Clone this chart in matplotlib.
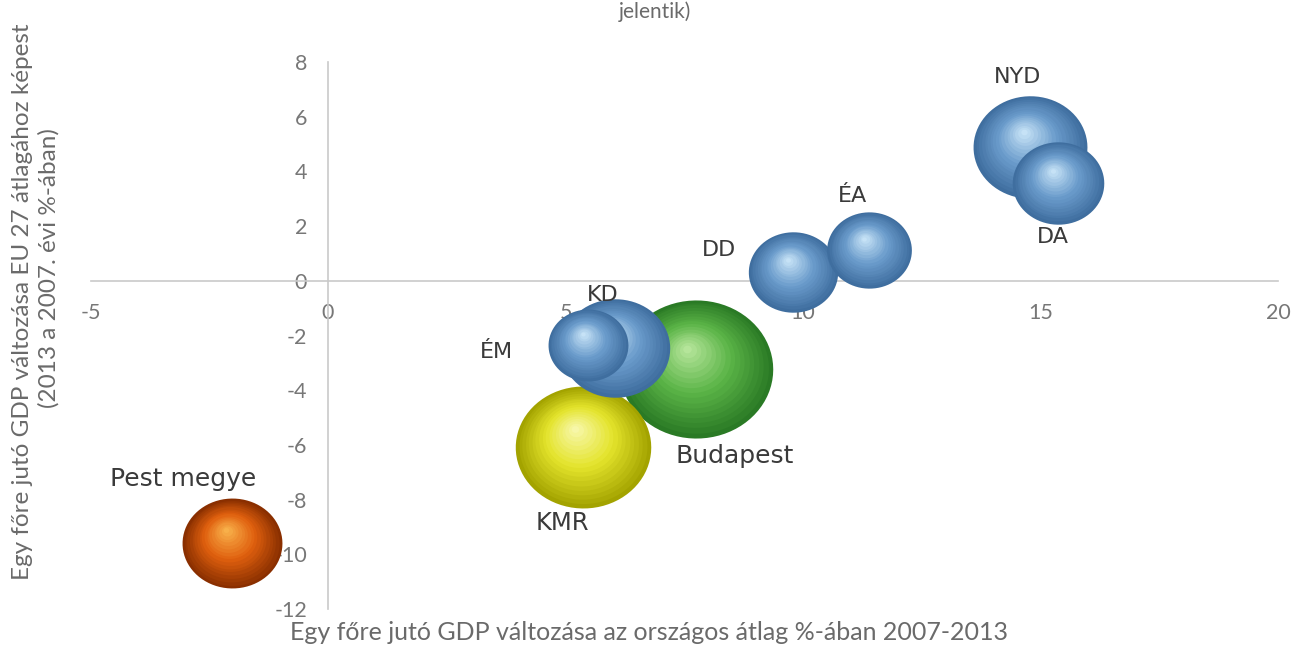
import numpy as np
import matplotlib
matplotlib.use("Agg")
import matplotlib.pyplot as plt
import matplotlib.transforms as mtransforms
from matplotlib.path import Path
from matplotlib.markers import MarkerStyle
from matplotlib.colors import to_rgb

# regions (bubble chart data)
regions = ["Budapest", "KMR", "KD", "ÉM", "DD", "ÉA", "NYD", "DA", "Pest megye"]
x_vals = [7.75, 5.37, 6.04, 5.47, 9.79, 11.39, 14.78, 15.37, -2.02]
y_vals = [-3.22, -6.07, -2.45, -2.34, 0.33, 1.13, 4.90, 3.58, -9.60]
bubble_vals = [59, 46, 30, 16, 20, 18, 32.5, 21, 25]

x_ticks = [-5, 0, 5, 10, 15, 20]
y_ticks = [-12, -10, -8, -6, -4, -2, 0, 2, 4, 6, 8]

xlabel = "Egy főre jutó GDP változása az országos átlag %-ában 2007-2013"
ylabel1 = "Egy főre jutó GDP változása EU 27 átlagához képest"
ylabel2 = "(2013 a 2007. évi %-ában)"
title_tail = "jelentik)"

# colours: (edge, mid, highlight)
blue = ("#3f6e9f", "#6b9ccc", "#c6e2f6")
palette = {
    "Budapest": ("#2a7a25", "#5bb447", "#b5e59a"),
    "KMR": ("#a3a300", "#e3e32a", "#f7f7a8"),
    "Pest megye": ("#8a2f00", "#e0600e", "#f8b04a"),
}
# label offsets in points, (dx, dy, size)
label_pos = {
    "Budapest": (28, -63, 18),
    "KMR": (-15, -55, 17.5),
    "KD": (-9, 38, 16),
    "ÉM": (-66, -5, 16),
    "DD": (-53, 16, 16),
    "ÉA": (-12, 39, 16),
    "NYD": (-9, 50, 16),
    "DA": (-4, -39, 16),
    "Pest megye": (-35, 46, 18),
}

plt.rcParams['font.family'] = ['Lato', 'DejaVu Sans']
plt.rcParams['axes.unicode_minus'] = False

fig = plt.figure(figsize=(12.97, 6.46), dpi=100)
ax = fig.add_axes([0.0698, 0.0573, 0.9156, 0.8467])
ax.set_xlim(-5, 20)
ax.set_ylim(-12, 8)

for s in ["top", "right"]:
    ax.spines[s].set_visible(False)
ax.spines["left"].set_position(("data", 0))
ax.spines["bottom"].set_position(("data", 0))
for s in ["left", "bottom"]:
    ax.spines[s].set_color("#c9c9c9")
    ax.spines[s].set_linewidth(1.2)

ax.set_xticks(x_ticks)
ax.set_yticks(y_ticks)
ax.tick_params(axis="x", length=0, pad=16, labelsize=15.5, labelcolor="#777777")
ax.tick_params(axis="y", length=0, pad=15, labelsize=15.5, labelcolor="#777777")

# slightly flattened bubble marker, like in the original
theta = np.linspace(0, 2 * np.pi, 80)
ell = MarkerStyle(Path(np.column_stack([np.cos(theta), 0.9 * np.sin(theta)]), closed=True))


def mix(c1, c2, t):
    a = np.array(to_rgb(c1))
    b = np.array(to_rgb(c2))
    return tuple(a + (b - a) * t)


n_layers = 18
for name, x, y, v in zip(regions, x_vals, y_vals, bubble_vals):
    edge, mid, hi = palette.get(name, blue)
    size = v * 207
    r_pt = np.sqrt(size) / 2
    for i in range(n_layers):
        f = 1 - i / n_layers
        t = i / (n_layers - 1)
        if t < 0.5:
            col = mix(edge, mid, t / 0.5)
        else:
            col = mix(mid, hi, (t - 0.5) / 0.5)
        dx = -0.12 * r_pt * (1 - f)
        dy = 0.28 * r_pt * (1 - f)
        tr = mtransforms.offset_copy(ax.transData, fig=fig, x=dx, y=dy, units="points")
        ax.scatter([x], [y], s=size * f ** 2, color=col, transform=tr, marker=ell,
                   linewidths=0, zorder=3)
    dx, dy, fs = label_pos[name]
    ax.annotate(name, (x, y), xytext=(dx, dy), textcoords="offset points",
                ha="center", va="center", fontsize=fs, color="#3a3a3a", zorder=5,
                family="DejaVu Sans")

fig.text(0.50, 0.021, xlabel, ha="center", va="center", fontsize=18, color="#6a6a6a")
fig.text(0.017, 0.533, ylabel1, ha="center", va="center", rotation=90,
         fontsize=17.5, color="#6a6a6a")
fig.text(0.038, 0.585, ylabel2, ha="center", va="center", rotation=90,
         fontsize=17.5, color="#6a6a6a")
fig.text(0.505, 0.998, title_tail, ha="center", va="top", fontsize=15, color="#6a6a6a")

fig.savefig("out.png", dpi=100)
